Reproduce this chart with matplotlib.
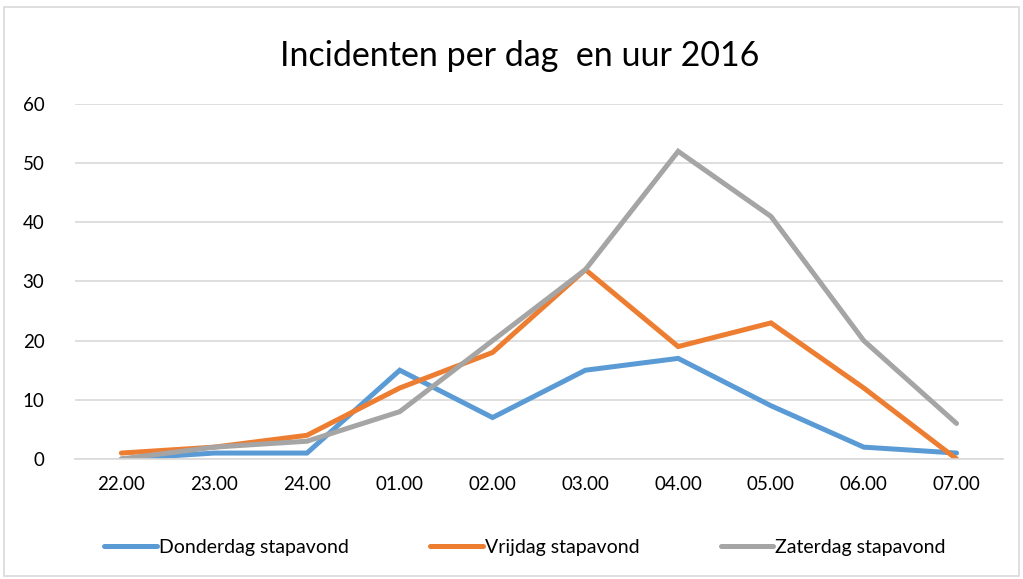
import matplotlib
matplotlib.use("Agg")
import matplotlib.pyplot as plt
from matplotlib.patches import Rectangle

hours = ["22.00", "23.00", "24.00", "01.00", "02.00", "03.00", "04.00", "05.00", "06.00", "07.00"]
donderdag = [0, 1, 1, 15, 7, 15, 17, 9, 2, 1]
vrijdag = [1, 2, 4, 12, 18, 32, 19, 23, 12, 0]
zaterdag = [0, 2, 3, 8, 20, 32, 52, 41, 20, 6]

series = [
    ("Donderdag stapavond", donderdag, "#5B9BD5"),
    ("Vrijdag stapavond", vrijdag, "#ED7D31"),
    ("Zaterdag stapavond", zaterdag, "#A5A5A5"),
]

plt.rcParams["font.family"] = ["Lato", "DejaVu Sans"]

fig = plt.figure(figsize=(10.23, 5.79), dpi=100)
# chart border
fig.patches.append(Rectangle((0.004, 0.006), 0.992, 0.982, transform=fig.transFigure,
                             fill=False, edgecolor="#D9D9D9", linewidth=1.2))
ax = fig.add_axes([0.0733, 0.2073, 0.9071, 0.6131])

x = list(range(len(hours)))
for name, vals, col in series:
    ax.plot(x, vals, color=col, linewidth=3.6, label=name, solid_capstyle="round",
            solid_joinstyle="miter")

ax.set_xlim(-0.5, len(hours) - 0.5)
ax.set_ylim(0, 60)
ax.set_yticks(range(0, 61, 10))
ax.set_xticks(x)
ax.set_xticklabels(hours)
ax.grid(axis="y", color="#D9D9D9", linewidth=1.2)
ax.set_axisbelow(True)
for s in ("top", "right", "left"):
    ax.spines[s].set_visible(False)
ax.spines["bottom"].set_color("#D9D9D9")
ax.spines["bottom"].set_linewidth(1.2)
ax.tick_params(length=0, labelsize=13.5, colors="#000000", pad=12)
ax.tick_params(axis="y", pad=22)

fig.text(0.508, 0.903, "Incidenten per dag  en uur 2016", ha="center", va="center", fontsize=24.5)

ax.legend(loc="center", bbox_to_anchor=(0.485, -0.249), ncol=3, frameon=False,
          fontsize=14, handlelength=2.7, handletextpad=0.1, columnspacing=4.2)

fig.savefig("out.png", dpi=100)
